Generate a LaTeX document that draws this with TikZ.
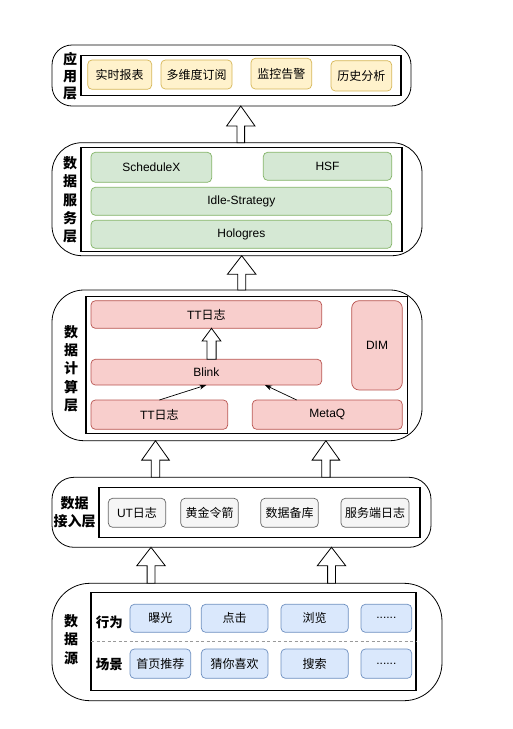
\documentclass[tikz,border=0pt]{standalone}
\usepackage{fontspec}
\setmainfont{Liberation Sans}
\newfontfamily\cjk{Noto Sans CJK SC}
\usetikzlibrary{calc,arrows.meta}
\definecolor{yelF}{HTML}{FFF2CC}\definecolor{yelD}{HTML}{D6B656}
\definecolor{grnF}{HTML}{D5E8D4}\definecolor{grnD}{HTML}{82B366}
\definecolor{redF}{HTML}{F8CECC}\definecolor{redD}{HTML}{B85450}
\definecolor{gryF}{HTML}{F5F5F5}\definecolor{gryD}{HTML}{666666}
\definecolor{bluF}{HTML}{DAE8FC}\definecolor{bluD}{HTML}{6C8EBF}
\tikzset{
  layer/.style={draw, line width=.8pt, rounded corners=#1, inner sep=0pt, outer sep=0pt},
  frame/.style={draw, line width=1.1pt, inner sep=0pt, outer sep=0pt},
  item/.style={draw=#1D, fill=#1F, line width=.7pt, rounded corners=4.3pt, inner sep=0pt,
    outer sep=0pt, font=\fontsize{12}{14}\selectfont},
  lbl/.style={align=center, inner sep=0pt, font=\cjk\bfseries\fontsize{14}{#1}\selectfont},
  lbl/.default=18.3,
  blk/.style={draw, fill=white, line width=.8pt},
  feed/.style={-{Stealth[length=7pt,width=5pt]}, line width=.7pt},
  sep/.style={draw=gray!80, line width=1.2pt, dash pattern=on 3pt off 2.5pt}
}
% box from its corners: style, name, x1, y1, x2, y2, text
\newcommand\bx[7]{\node[#1, anchor=north west, minimum width={(#5-#3)*1pt},
  minimum height={(#6-#4)*1pt}] (#2) at (#3,#4) {#7};}
% hollow arrow: lower node, upper node, x, head half width, shaft half width, head length
\newcommand\blockarr[6]{\draw[blk] let \p1=(#1.north), \p2=(#2.south) in
  ({#3pt-#5pt},\y1) -- ({#3pt-#5pt},{\y2-#6pt}) -- ({#3pt-#4pt},{\y2-#6pt}) -- (#3pt,\y2)
  -- ({#3pt+#4pt},{\y2-#6pt}) -- ({#3pt+#5pt},{\y2-#6pt}) -- ({#3pt+#5pt},\y1) -- cycle;}
\begin{document}
\begin{tikzpicture}[x=1pt,y=-1pt]
\useasboundingbox (0,0) rectangle (512,729);
% application layer
\bx{layer=20pt}{L1}{52}{45}{411}{106}{}
\bx{frame}{L1in}{81}{55.7}{401}{95.7}{}
\node[lbl=16.7] (L1lab) at (70,76) {应\\用\\层};
\bx{item=yel}{a1}{87.7}{60}{151.7}{89.3}{\cjk 实时报表}
\bx{item=yel}{a2}{161}{60}{232}{89}{\cjk 多维度订阅}
\bx{item=yel}{a3}{251}{58.3}{311.7}{89}{\cjk 监控告警}
\bx{item=yel}{a4}{331}{60.7}{391.7}{91}{\cjk 历史分析}
% service layer
\bx{layer=30pt}{L2}{52}{142.7}{422}{255.7}{}
\bx{frame}{L2in}{81}{147.3}{402}{251.7}{}
\node[lbl] (L2lab) at (70,200) {数\\据\\服\\务\\层};
\bx{item=grn}{s1}{91}{152.3}{211.7}{182.3}{ScheduleX}
\bx{item=grn}{s2}{263.3}{152.3}{391.7}{180.3}{HSF}
\bx{item=grn}{s3}{91}{187.3}{391.7}{215.3}{Idle-Strategy}
\bx{item=grn}{s4}{91}{220.3}{391.7}{248.3}{Hologres}
% compute layer
\bx{layer=32pt}{L3}{52}{290}{422}{440.7}{}
\bx{frame}{L3in}{86}{296.7}{407.7}{433.3}{}
\node[lbl] (L3lab) at (71,368.5) {数\\据\\计\\算\\层};
\bx{item=red}{c1}{91}{300.7}{321.7}{328.3}{TT{\cjk 日志}}
\bx{item=red}{c2}{91}{359.3}{321.7}{385}{Blink}
\bx{item=red, rounded corners=7.5pt}{c3}{351.7}{300.7}{402.3}{390}{DIM}
\bx{item=red}{c4}{91}{400}{227.7}{429.3}{TT{\cjk 日志}}
\bx{item=red}{c5}{252.3}{400}{402.3}{429.3}{MetaQ}
\draw[feed] (c4.north) -- (c2.south);
\draw[feed] ([xshift=-30.6pt]c5.north) -- ([xshift=58.6pt]c2.south);
% access layer
\bx{layer=22pt}{L4}{52}{477.3}{431}{547.3}{}
\bx{frame}{L4in}{99}{487.3}{420}{537.7}{}
\node[lbl] (L4lab) at (74.5,512) {数据\\接入层};
\bx{item=gry}{d1}{108.3}{498.3}{165.7}{527.3}{UT{\cjk 日志}}
\bx{item=gry}{d2}{180.7}{498.3}{238.3}{527.3}{\cjk 黄金令箭}
\bx{item=gry}{d3}{260.7}{498.3}{318.3}{527.3}{\cjk 数据备库}
\bx{item=gry}{d4}{341}{498.3}{409}{527.3}{\cjk 服务端日志}
% source layer
\bx{layer=38pt}{L5}{52}{583.3}{442}{700.7}{}
\bx{frame}{L5in}{91}{592.7}{416}{690.7}{}
\node[lbl] (L5lab) at (71,639.5) {数\\据\\源};
\coordinate (div) at (0,641.7);
\draw[sep] (div -| L5in.west) -- (div -| L5in.east);
\node[lbl, font=\cjk\bfseries\fontsize{13.5}{16}\selectfont] (act) at (109.3,622.7) {行为};
\node[lbl, font=\cjk\bfseries\fontsize{13.5}{16}\selectfont] (scn) at (109.3,664.3) {场景};
\bx{item=blu}{e1}{130}{604.3}{190.7}{632.3}{\cjk 曝光}
\bx{item=blu}{e2}{201.3}{604.3}{268}{632.3}{\cjk 点击}
\bx{item=blu}{e3}{281}{604.3}{348.3}{632.3}{\cjk 浏览}
\bx{item=blu}{e4}{361}{604.3}{411.7}{632.3}{......}
\bx{item=blu}{f1}{130}{649}{190.7}{678.3}{\cjk 首页推荐}
\bx{item=blu}{f2}{201.3}{649}{268}{678.3}{\cjk 猜你喜欢}
\bx{item=blu}{f3}{281}{649}{348.3}{678.3}{\cjk 搜索}
\bx{item=blu}{f4}{361}{649}{411.7}{678.3}{......}
% hollow arrows between layers
\blockarr{L2}{L1}{240.8}{14.2}{3.8}{20}
\blockarr{L3}{L2}{241.7}{14.3}{4}{18.6}
\blockarr{c2}{c1}{211.5}{9.3}{4.6}{12.6}
\blockarr{L4}{L3}{155.5}{13.8}{4.2}{19.4}
\blockarr{L4}{L3}{325.9}{13.8}{4.2}{19.4}
\blockarr{L5}{L4}{151}{14.2}{3.9}{18.4}
\blockarr{L5}{L4}{331.5}{14.2}{3.9}{18.4}
\end{tikzpicture}
\end{document}
